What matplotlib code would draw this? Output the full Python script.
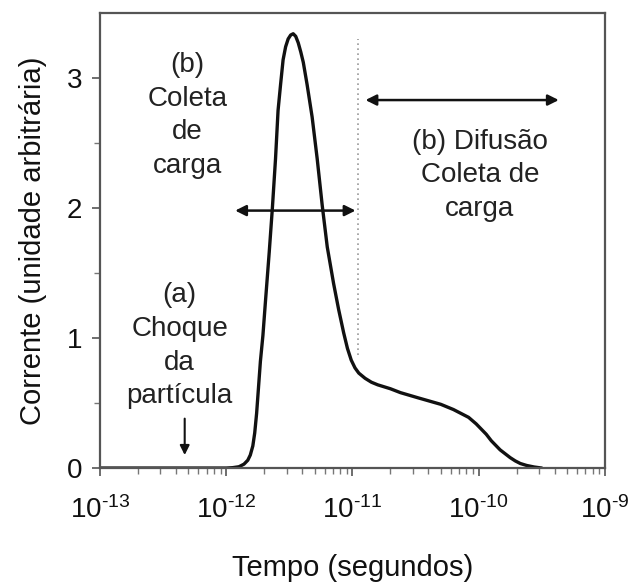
import numpy as np
import matplotlib
matplotlib.use("Agg")
import matplotlib.pyplot as plt
from matplotlib.ticker import FuncFormatter, NullFormatter

# curve: log10(time in s) and current (arbitrary units)
log_t = [-13.0, -12.0, -11.95, -11.90, -11.86, -11.83, -11.81, -11.79, -11.775,
         -11.76, -11.745, -11.73, -11.71, -11.69, -11.66, -11.635, -11.61,
         -11.59, -11.57, -11.55, -11.53, -11.51, -11.49, -11.47, -11.45,
         -11.43, -11.41, -11.39, -11.36, -11.32, -11.28, -11.24, -11.20,
         -11.15, -11.11, -11.07, -11.04, -11.01, -10.98, -10.95, -10.90,
         -10.85, -10.80, -10.70, -10.62, -10.48, -10.30, -10.20, -10.14,
         -10.08, -10.02, -9.98, -9.94, -9.90, -9.86, -9.83, -9.79, -9.75,
         -9.71, -9.67, -9.62, -9.56, -9.50]
current = [0.0, 0.0, 0.003, 0.01, 0.03, 0.06, 0.10, 0.17, 0.27,
           0.42, 0.62, 0.82, 1.02, 1.28, 1.66, 2.00, 2.38,
           2.75, 2.95, 3.14, 3.24, 3.30, 3.33, 3.34, 3.32,
           3.27, 3.20, 3.12, 2.95, 2.70, 2.38, 2.02, 1.70,
           1.42, 1.22, 1.04, 0.92, 0.83, 0.77, 0.73, 0.69,
           0.66, 0.64, 0.61, 0.58, 0.54, 0.49, 0.45, 0.42,
           0.39, 0.34, 0.30, 0.26, 0.21, 0.17, 0.14, 0.11, 0.08,
           0.055, 0.035, 0.02, 0.008, 0.0]

decades = [-13, -12, -11, -10, -9]

# annotations (log10 time, value)
collect_arrow = (-11.93, -10.976, 1.98)
diff_arrow = (-10.897, -9.365, 2.83)
impact_arrow = (-12.33, 0.38, 0.10)
divider = (-10.96, 0.87, 3.30)

label_b1 = "(b)\nColeta\nde\ncarga"
label_a = "(a)\nChoque\nda\npartícula"
label_b2 = "(b) Difusão\nColeta de\ncarga"

plt.rcParams["font.family"] = ["Liberation Sans", "DejaVu Sans"]
plt.rcParams["mathtext.fontset"] = "custom"
plt.rcParams["mathtext.rm"] = "Liberation Sans"
plt.rcParams["mathtext.it"] = "Liberation Sans:italic"
plt.rcParams["mathtext.bf"] = "Liberation Sans:bold"


def decade_label(v, pos):
    e = int(round(np.log10(v)))
    return r"$\mathregular{10^{\text{%d}}}$" % e


fig = plt.figure(figsize=(6.38, 5.88), dpi=100)
ax = fig.add_axes([0.157, 0.204, 0.791, 0.774])

t = 10.0 ** np.array(log_t)
ax.plot(t, current, color="#111111", lw=2.4, solid_capstyle="round",
        solid_joinstyle="round")

ax.set_xscale("log")
ax.set_xlim(1e-13, 1e-9)
ax.set_ylim(0, 3.5)
ax.set_xticks([10.0 ** d for d in decades])
ax.set_yticks([0, 1, 2, 3])
ax.set_yticks([0.5, 1.5, 2.5], minor=True)
ax.xaxis.set_major_formatter(FuncFormatter(decade_label))
ax.xaxis.set_minor_formatter(NullFormatter())

# dotted divider
ax.plot([10 ** divider[0]] * 2, divider[1:], color="#999999", lw=1.2, ls=(0, (1, 2)))

arrow_kw = dict(arrowstyle="<|-|>", color="#111111", lw=1.8, mutation_scale=16,
                shrinkA=0, shrinkB=0)
ax.annotate("", xy=(10 ** collect_arrow[1], collect_arrow[2]),
            xytext=(10 ** collect_arrow[0], collect_arrow[2]), arrowprops=arrow_kw)
ax.annotate("", xy=(10 ** diff_arrow[1], diff_arrow[2]),
            xytext=(10 ** diff_arrow[0], diff_arrow[2]), arrowprops=arrow_kw)
ax.annotate("", xy=(10 ** impact_arrow[0], impact_arrow[2]),
            xytext=(10 ** impact_arrow[0], impact_arrow[1]),
            arrowprops=dict(arrowstyle="-|>", color="#111111", lw=1.5,
                            mutation_scale=14, shrinkA=0, shrinkB=0))

txt_kw = dict(fontsize=20, ha="center", va="center", linespacing=1.38, color="#222222")
ax.text(10 ** -12.31, 2.71, label_b1, **txt_kw)
ax.text(10 ** -12.37, 0.94, label_a, **txt_kw)
ax.text(10 ** -9.99, 2.25, label_b2, **txt_kw)

for s in ax.spines.values():
    s.set_color("#555555")
    s.set_linewidth(1.6)

ax.tick_params(which="major", direction="out", length=6, width=1.2, colors="#555555",
               labelcolor="#111111", labelsize=20)
ax.tick_params(which="minor", direction="out", length=4, width=1.0, colors="#777777")
ax.tick_params(axis="x", which="major", pad=14)
ax.tick_params(axis="y", which="major", pad=7)

ax.set_xlabel("Tempo (segundos)", fontsize=21, labelpad=22, color="#111111")
ax.set_ylabel("Corrente (unidade arbitrária)", fontsize=21, labelpad=14, color="#111111")

fig.savefig("out.png", dpi=100)
